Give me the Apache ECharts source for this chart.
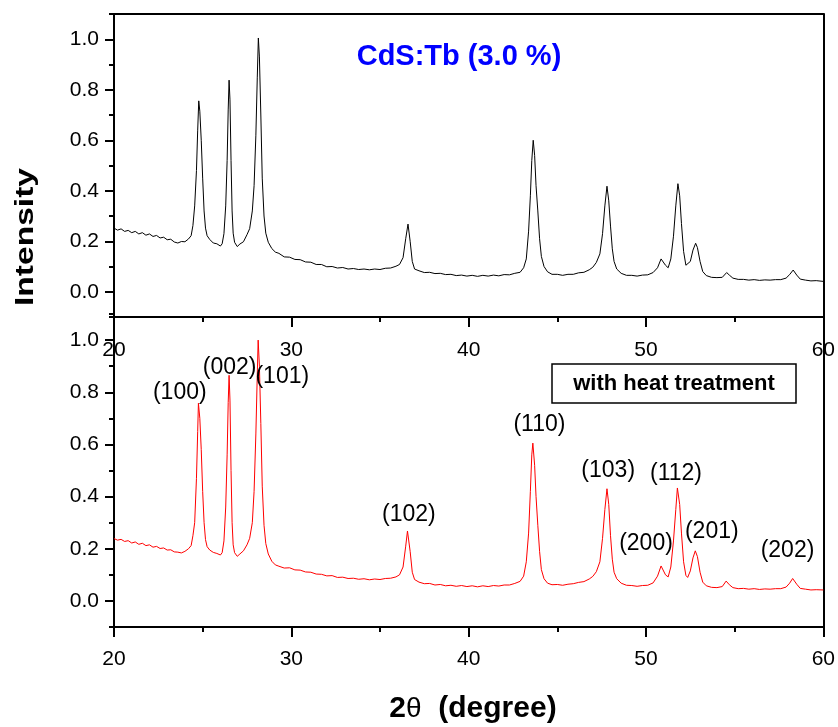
<!DOCTYPE html>
<html><head><meta charset="utf-8">
<script src="https://cdn.jsdelivr.net/npm/echarts@6/dist/echarts.min.js"></script>
<style>html,body{margin:0;padding:0;background:#fff}#c{width:838px;height:727px}</style>
</head><body><div id="c"></div>
<script>
// ---- data ----
const xTicks = [20, 30, 40, 50, 60];
const yTickLabels = [0.0, 0.2, 0.4, 0.6, 0.8, 1.0];
const yMinorTicks = [-0.1, 0.1, 0.3, 0.5, 0.7, 0.9, 1.1];

// top panel (black): [2theta, intensity]
const topPattern = [[20.0,0.252],[20.2,0.244],[20.4,0.249],[20.6,0.239],[20.8,0.243],[21.0,0.234],[21.2,0.239],[21.4,0.229],[21.6,0.234],[21.8,0.224],[22.0,0.229],[22.2,0.219],[22.4,0.223],[22.6,0.213],[22.8,0.216],[23.0,0.206],[23.2,0.208],[23.4,0.197],[23.6,0.193],[23.8,0.199],[24.0,0.198],[24.2,0.209],[24.35,0.222],[24.45,0.262],[24.55,0.340],[24.65,0.480],[24.72,0.640],[24.78,0.756],[24.84,0.715],[24.92,0.600],[25.0,0.450],[25.08,0.320],[25.16,0.252],[25.25,0.222],[25.4,0.207],[25.6,0.193],[25.8,0.190],[26.0,0.181],[26.1,0.190],[26.2,0.230],[26.3,0.340],[26.38,0.520],[26.44,0.720],[26.49,0.838],[26.54,0.760],[26.6,0.520],[26.66,0.320],[26.72,0.232],[26.8,0.196],[26.95,0.179],[27.1,0.189],[27.3,0.198],[27.5,0.226],[27.65,0.250],[27.8,0.320],[27.9,0.420],[28.0,0.620],[28.08,0.850],[28.14,1.005],[28.2,0.930],[28.28,0.700],[28.36,0.450],[28.46,0.300],[28.56,0.232],[28.7,0.196],[28.9,0.171],[29.1,0.157],[29.3,0.152],[29.6,0.138],[29.9,0.137],[30.2,0.128],[30.5,0.127],[30.8,0.118],[31.1,0.117],[31.4,0.108],[31.7,0.108],[32.0,0.099],[32.3,0.100],[32.6,0.094],[32.9,0.096],[33.2,0.090],[33.5,0.092],[33.8,0.088],[34.1,0.090],[34.4,0.087],[34.7,0.090],[35.0,0.088],[35.3,0.093],[35.6,0.094],[35.9,0.101],[36.1,0.108],[36.3,0.135],[36.45,0.210],[36.58,0.268],[36.7,0.200],[36.82,0.120],[36.95,0.090],[37.2,0.083],[37.5,0.076],[37.8,0.077],[38.1,0.072],[38.4,0.073],[38.7,0.068],[39.0,0.069],[39.3,0.064],[39.6,0.066],[39.9,0.062],[40.2,0.065],[40.5,0.061],[40.8,0.065],[41.1,0.062],[41.4,0.066],[41.7,0.063],[42.0,0.068],[42.3,0.067],[42.6,0.073],[42.9,0.077],[43.1,0.095],[43.25,0.130],[43.38,0.240],[43.48,0.380],[43.56,0.520],[43.64,0.600],[43.72,0.540],[43.8,0.420],[43.9,0.320],[44.0,0.210],[44.1,0.140],[44.25,0.100],[44.45,0.079],[44.7,0.069],[45.0,0.069],[45.3,0.065],[45.6,0.069],[45.9,0.069],[46.2,0.075],[46.5,0.077],[46.8,0.087],[47.0,0.097],[47.2,0.116],[47.4,0.150],[47.55,0.230],[47.68,0.340],[47.8,0.418],[47.9,0.360],[48.0,0.260],[48.1,0.170],[48.2,0.120],[48.35,0.090],[48.6,0.073],[48.9,0.065],[49.2,0.065],[49.5,0.062],[49.8,0.066],[50.1,0.067],[50.4,0.076],[50.65,0.095],[50.85,0.130],[50.95,0.128],[51.1,0.105],[51.25,0.095],[51.4,0.130],[51.55,0.220],[51.68,0.340],[51.8,0.428],[51.9,0.380],[52.0,0.270],[52.12,0.160],[52.25,0.105],[52.35,0.098],[52.5,0.120],[52.65,0.165],[52.8,0.192],[52.9,0.175],[53.05,0.120],[53.2,0.080],[53.4,0.064],[53.7,0.057],[54.0,0.056],[54.3,0.057],[54.55,0.076],[54.7,0.066],[54.9,0.054],[55.2,0.049],[55.5,0.049],[55.8,0.046],[56.1,0.048],[56.4,0.045],[56.7,0.047],[57.0,0.046],[57.3,0.048],[57.6,0.048],[57.9,0.054],[58.1,0.068],[58.3,0.086],[58.5,0.066],[58.7,0.050],[59.0,0.046],[59.3,0.043],[59.6,0.044],[60.0,0.041]];

// bottom panel (red, with heat treatment): [2theta, intensity]
const heatPattern = [[20.0,0.239],[20.2,0.233],[20.4,0.236],[20.6,0.228],[20.8,0.231],[21.0,0.222],[21.2,0.226],[21.4,0.217],[21.6,0.221],[21.8,0.212],[22.0,0.215],[22.2,0.206],[22.4,0.209],[22.6,0.201],[22.8,0.203],[23.0,0.195],[23.2,0.196],[23.4,0.188],[23.6,0.187],[23.8,0.184],[24.0,0.190],[24.2,0.200],[24.35,0.212],[24.45,0.250],[24.55,0.300],[24.65,0.470],[24.72,0.650],[24.76,0.758],[24.84,0.700],[24.92,0.580],[25.0,0.420],[25.08,0.300],[25.16,0.235],[25.25,0.208],[25.4,0.195],[25.6,0.186],[25.8,0.182],[26.0,0.176],[26.1,0.185],[26.2,0.230],[26.3,0.360],[26.38,0.560],[26.44,0.760],[26.49,0.865],[26.54,0.770],[26.6,0.500],[26.66,0.300],[26.72,0.215],[26.8,0.185],[26.95,0.171],[27.1,0.180],[27.3,0.192],[27.5,0.215],[27.65,0.240],[27.8,0.300],[27.9,0.420],[28.0,0.640],[28.08,0.870],[28.13,1.000],[28.2,0.900],[28.28,0.680],[28.36,0.440],[28.46,0.290],[28.56,0.220],[28.7,0.180],[28.9,0.152],[29.1,0.138],[29.3,0.133],[29.6,0.126],[29.9,0.127],[30.2,0.119],[30.5,0.118],[30.8,0.111],[31.1,0.110],[31.4,0.103],[31.7,0.102],[32.0,0.096],[32.3,0.097],[32.6,0.090],[32.9,0.091],[33.2,0.086],[33.5,0.087],[33.8,0.083],[34.1,0.085],[34.4,0.081],[34.7,0.084],[35.0,0.082],[35.3,0.086],[35.6,0.087],[35.9,0.092],[36.1,0.100],[36.3,0.130],[36.45,0.210],[36.55,0.268],[36.7,0.190],[36.82,0.110],[36.95,0.082],[37.2,0.072],[37.5,0.066],[37.8,0.067],[38.1,0.061],[38.4,0.063],[38.7,0.058],[39.0,0.060],[39.3,0.056],[39.6,0.059],[39.9,0.055],[40.2,0.058],[40.5,0.054],[40.8,0.058],[41.1,0.055],[41.4,0.059],[41.7,0.057],[42.0,0.061],[42.3,0.061],[42.6,0.067],[42.9,0.075],[43.1,0.095],[43.25,0.150],[43.38,0.260],[43.48,0.420],[43.56,0.560],[43.62,0.605],[43.72,0.520],[43.8,0.400],[43.9,0.290],[44.0,0.190],[44.1,0.120],[44.25,0.085],[44.45,0.068],[44.7,0.062],[45.0,0.063],[45.3,0.060],[45.6,0.064],[45.9,0.066],[46.2,0.071],[46.5,0.074],[46.8,0.084],[47.0,0.094],[47.2,0.112],[47.4,0.150],[47.55,0.240],[47.68,0.350],[47.8,0.430],[47.9,0.370],[48.0,0.250],[48.1,0.160],[48.2,0.110],[48.35,0.085],[48.6,0.068],[48.9,0.060],[49.2,0.059],[49.5,0.056],[49.8,0.059],[50.1,0.060],[50.4,0.069],[50.65,0.095],[50.85,0.134],[50.95,0.128],[51.1,0.100],[51.25,0.092],[51.4,0.130],[51.55,0.230],[51.68,0.350],[51.77,0.433],[51.9,0.370],[52.0,0.260],[52.12,0.150],[52.25,0.098],[52.35,0.090],[52.5,0.115],[52.65,0.165],[52.78,0.192],[52.9,0.170],[53.05,0.110],[53.2,0.072],[53.4,0.058],[53.7,0.052],[54.0,0.051],[54.3,0.055],[54.52,0.076],[54.7,0.062],[54.9,0.051],[55.2,0.047],[55.5,0.048],[55.8,0.045],[56.1,0.047],[56.4,0.044],[56.7,0.046],[57.0,0.045],[57.3,0.047],[57.6,0.047],[57.9,0.053],[58.1,0.068],[58.27,0.086],[58.5,0.064],[58.7,0.048],[59.0,0.045],[59.3,0.042],[59.6,0.043],[60.0,0.042]];

const peakLabels = ['(100)', '(002)', '(101)', '(102)', '(110)', '(103)', '(112)', '(200)', '(201)', '(202)'];
const peakX = [23.71, 26.52, 29.49, 36.63, 43.99, 47.87, 51.69, 50.00, 53.71, 57.98];
const peakY = [0.797, 0.893, 0.859, 0.331, 0.675, 0.499, 0.488, 0.220, 0.266, 0.194];

const titleText = 'CdS:Tb (3.0 %)';
const boxText = 'with heat treatment';
const yName = 'Intensity';

// ---- chart ----
const SANS = '"Liberation Sans", Arial, sans-serif';
const AX = {color: '#000', width: 2};

function mainX(gi, margin) {
  return {gridIndex: gi, type: 'value', min: xTicks[0], max: xTicks[xTicks.length - 1], interval: 10,
    axisLine: {show: true, onZero: false, lineStyle: AX},
    axisTick: {show: true, length: 10, lineStyle: AX},
    minorTick: {show: true, splitNumber: 2, length: 5, lineStyle: AX},
    axisLabel: {margin: margin, fontFamily: SANS, fontSize: 21, color: '#000'},
    splitLine: {show: false}, minorSplitLine: {show: false}};
}
function borderX(gi) {
  return {gridIndex: gi, type: 'value', position: 'top', min: 20, max: 60,
    axisLine: {show: true, onZero: false, lineStyle: AX}, axisTick: {show: false},
    axisLabel: {show: false}, splitLine: {show: false}};
}
function mainY(gi) {
  return {gridIndex: gi, type: 'value', position: 'left', offset: 0, min: -0.1, max: 1.1, interval: 0.1,
    axisLine: {show: true, onZero: false, lineStyle: AX},
    axisTick: {show: true, length: 9, lineStyle: AX, customValues: yTickLabels},
    axisLabel: {customValues: yTickLabels, formatter: v => Number(v).toFixed(1), margin: 15,
      fontFamily: SANS, fontSize: 21, color: '#000'},
    splitLine: {show: false}};
}
function minorY(gi) {
  return {gridIndex: gi, type: 'value', position: 'left', offset: 0, min: -0.1, max: 1.1, interval: 0.1,
    axisLine: {show: false},
    axisTick: {show: true, length: 5, lineStyle: AX, customValues: yMinorTicks},
    axisLabel: {show: false}, splitLine: {show: false}};
}
function rightY(gi) {
  return {gridIndex: gi, type: 'value', position: 'right', offset: 0, min: -0.1, max: 1.1,
    axisLine: {show: true, onZero: false, lineStyle: AX}, axisTick: {show: false},
    axisLabel: {show: false}, splitLine: {show: false}};
}

const chart = echarts.init(document.getElementById('c'), null, {renderer: 'canvas'});
chart.setOption({
  animation: false,
  backgroundColor: '#fff',
  grid: [
    {left: 114, right: 12, top: 14, height: 303},
    {left: 114, right: 12, top: 314, height: 313}
  ],
  xAxis: [mainX(0, 23), borderX(0), mainX(1, 22)],
  yAxis: [mainY(0), minorY(0), rightY(0), mainY(1), minorY(1), rightY(1)],
  series: [
    {type: 'line', xAxisIndex: 0, yAxisIndex: 0, data: topPattern, symbol: 'none',
      lineStyle: {color: '#000', width: 1}, silent: true},
    {type: 'line', xAxisIndex: 2, yAxisIndex: 3, data: heatPattern, symbol: 'none',
      lineStyle: {color: '#ff0000', width: 1}, silent: true},
    {type: 'scatter', xAxisIndex: 2, yAxisIndex: 3, symbolSize: 0, silent: true, z: 5,
      itemStyle: {color: '#000', opacity: 1},
      data: peakLabels.map((t, i) => [peakX[i], peakY[i], t]),
      label: {show: true, position: 'inside', formatter: p => p.data[2],
        fontFamily: SANS, fontSize: 23, color: '#000', opacity: 1, textBorderWidth: 0,
        align: 'center', verticalAlign: 'middle'}}
  ],
  graphic: [
    {type: 'text', x: 459, y: 57, z: 20,
      style: {text: titleText, fill: '#0000ff', fontFamily: SANS, fontWeight: 'bold', fontSize: 29,
        align: 'center', verticalAlign: 'middle'}},
    {type: 'text', x: 26, y: 237, rotation: Math.PI / 2, scaleX: 1.29, z: 20,
      style: {text: yName, fill: '#000', fontFamily: SANS, fontWeight: 'bold', fontSize: 26,
        align: 'center', verticalAlign: 'middle'}},
    {type: 'text', x: 473, y: 709, z: 20,
      style: {text: '{a|2}{b|θ}{a|  (degree)}', fill: '#000', align: 'center', verticalAlign: 'middle',
        rich: {a: {fontFamily: SANS, fontWeight: 'bold', fontSize: 30, fill: '#000'},
               b: {fontFamily: SANS, fontSize: 28, fill: '#000'}}}},
    {type: 'rect', z: 20, shape: {x: 552, y: 364, width: 244, height: 39},
      style: {fill: '#fff', stroke: '#000', lineWidth: 1.5}},
    {type: 'text', x: 674, y: 384, z: 21,
      style: {text: boxText, fill: '#000', fontFamily: SANS, fontWeight: 'bold', fontSize: 22,
        align: 'center', verticalAlign: 'middle'}}
  ]
});
</script></body></html>
